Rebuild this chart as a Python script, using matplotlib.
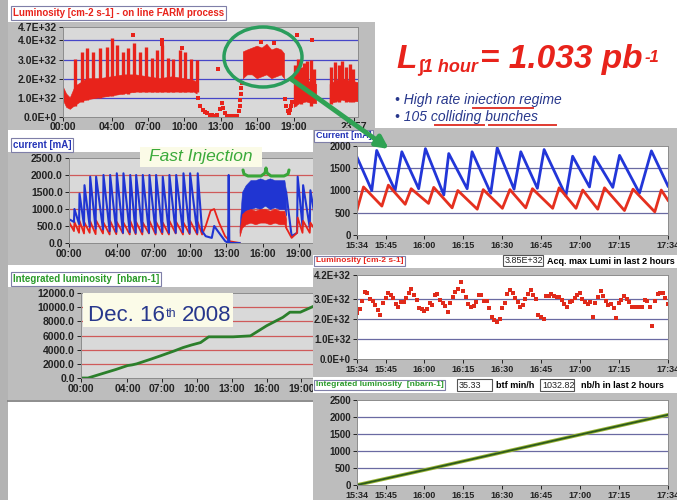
import numpy as np
import matplotlib
matplotlib.use('Agg')
import matplotlib.pyplot as plt
from matplotlib.patches import Rectangle, Ellipse
from matplotlib.lines import Line2D

plt.rcParams['font.family'] = ['Liberation Sans', 'DejaVu Sans']

nan = np.nan

# ---------------- daily trend (left column), time in hours ----------------
lum_spike_t = [0.99, 1.54, 2.00, 2.50, 3.05, 3.60, 4.01, 4.47, 4.97, 5.38, 5.85, 6.34,
               6.81, 7.30, 7.72, 8.18, 8.67, 9.09, 9.64, 10.05, 10.52, 11.01,
               19.10, 19.35, 19.60, 19.85, 20.10, 20.40, 20.70,
               22.10, 22.40, 22.70, 23.00, 23.30, 23.60, 23.90]
lum_spike_hi = [3.05, 3.40, 3.60, 3.40, 3.60, 3.67, 4.12, 3.76, 3.40, 3.60, 3.85, 3.40,
                3.67, 3.10, 3.50, 3.76, 3.10, 3.05, 3.50, 3.40, 3.05, 2.96,
                2.70, 3.05, 2.60, 2.80, 2.90, 3.00, 2.50,
                2.60, 2.85, 2.70, 2.90, 2.60, 2.75, 2.50]
lum_spike_lo = [0.60, 0.80, 0.90, 1.00, 1.00, 1.10, 1.10, 1.20, 1.20, 1.20, 1.30, 1.30,
                1.30, 1.30, 1.30, 1.30, 1.30, 1.30, 1.30, 1.30, 1.30, 1.30,
                0.60, 0.80, 0.70, 0.80, 0.90, 0.60, 0.80,
                0.70, 0.80, 0.80, 0.90, 0.80, 0.80, 0.80]
lum_band_t = [0.0, 0.3, 0.6, 1.0, 1.5, 2.0, 3.0, 4.0, 5.0, 6.0, 7.0, 8.0, 9.0, 10.0, 10.8, 11.05, nan,
              14.85, 15.2, 15.6, 16.0, 16.4, 16.8, 17.2, 17.6, 18.0, 18.25, nan,
              19.05, 19.5, 20.0, 20.5, 20.9, nan,
              22.0, 22.5, 23.0, 23.5, 24.3]
lum_band_lo = [0.9, 0.5, 0.4, 0.6, 0.8, 0.9, 1.0, 1.1, 1.2, 1.3, 1.3, 1.3, 1.3, 1.3, 1.3, 1.2, nan,
               2.0, 2.2, 2.2, 2.0, 2.1, 2.2, 2.0, 2.1, 2.2, 2.0, nan,
               0.5, 0.7, 0.8, 0.7, 0.7, nan,
               0.7, 0.8, 0.9, 0.8, 0.8]
lum_band_hi = [1.6, 1.2, 1.0, 1.6, 1.8, 2.0, 2.0, 2.1, 2.2, 2.2, 2.1, 2.0, 2.1, 2.0, 1.9, 1.8, nan,
               3.4, 3.5, 3.6, 3.7, 3.6, 3.8, 3.5, 3.6, 3.5, 3.3, nan,
               1.6, 1.8, 1.9, 1.8, 1.7, nan,
               1.7, 1.9, 2.0, 1.9, 1.8]
lum_pt_t = [11.15, 11.3, 11.5, 11.7, 11.9, 12.1, 12.3, 12.5, 12.7, 12.9, 13.07, 13.2, 13.35,
            13.5, 13.7, 13.9, 14.1, 14.3, 14.5, 14.55, 14.6, 14.65, 14.7, 14.75,
            18.3, 18.4, 18.5, 18.6, 18.7, 18.8, 18.9,
            5.77, 8.15, 8.15, 9.8, 12.77, 16.3, 17.4, 19.3, 20.5]
lum_pt_v = [1.0, 0.55, 0.35, 0.25, 0.2, 0.12, 0.08, 0.05, 0.1, 0.4, 0.72, 0.45, 0.2,
            0.05, 0.05, 0.05, 0.05, 0.05, 0.3, 0.6, 0.9, 1.2, 1.5, 1.8,
            0.95, 0.55, 0.3, 0.2, 0.35, 0.6, 0.8,
            4.3, 4.0, 3.8, 3.6, 2.5, 3.9, 3.85, 4.3, 4.0]

cur_inj_t = [0.41, 0.83, 1.24, 1.71, 2.20, 2.81, 3.36, 3.91, 4.46, 5.02, 5.51, 6.06,
             6.61, 7.16, 7.71, 8.26, 8.82, 9.42, 9.97, 10.60]
cur_blue_peak = [1000, 1450, 1700, 1950, 1950, 2000, 2000, 2050, 2050, 2000, 2000, 2000,
                 2000, 2000, 1950, 2000, 2000, 2050, 2050, 2050]
cur_blue_trough = [620, 560, 520, 480, 420, 400, 350, 330, 300, 320, 300, 330,
                   300, 300, 320, 300, 300, 320, 300, 300]
cur_red_peak = [620, 650, 600, 640, 660, 600, 650, 620, 600, 650, 620, 600,
                650, 620, 600, 650, 620, 600, 650, 620]
cur_red_trough = [350, 300, 280, 300, 260, 280, 250, 260, 280, 250, 260, 250,
                  280, 250, 260, 250, 280, 250, 260, 250]
cur_blue_tail_t = [11.00, 11.30, 11.80, 12.00, 12.40, 12.90, 13.15, 13.20, 13.25, 13.60, 14.10]
cur_blue_tail_v = [350, 200, 150, 500, 300, 60, 0, 2000, 0, 0, 0]
cur_red_tail_t = [11.0, 11.3, 11.7, 12.0, 12.4, 12.9, 13.3, 14.1]
cur_red_tail_v = [250, 500, 950, 1000, 600, 200, 50, 0]
fi_t = [14.1, 14.3, 14.6, 15.0, 15.4, 15.8, 16.2, 16.6, 17.0, 17.4, 17.8, 17.95]
fi_blue_hi = [500, 1500, 1700, 1850, 1850, 1900, 1850, 1900, 1850, 1850, 1850, 1500]
fi_blue_lo = [300, 700, 950, 1000, 1050, 1000, 1100, 1000, 1050, 1000, 1000, 800]
fi_red_hi = [400, 850, 950, 1000, 950, 1000, 1000, 950, 1000, 950, 950, 700]
fi_red_lo = [200, 450, 550, 600, 550, 600, 600, 550, 600, 550, 550, 400]
cur_blue_post_t = [17.95, 18.40, 18.85, 18.90, 19.30, 19.35, 19.90, 19.95, 20.50, 20.55, 21.2]
cur_blue_post_v = [1500, 200, 300, 1950, 500, 1700, 450, 1550, 400, 1500, 400]
cur_red_post_t = [17.95, 18.40, 18.85, 18.90, 19.30, 19.35, 19.90, 19.95, 20.5]
cur_red_post_v = [450, 150, 300, 750, 300, 650, 300, 600, 300]

int_t = [0, 0.6, 1.0, 2.0, 3.0, 4.0, 4.4, 4.8, 6.0, 6.8, 8.0, 8.8, 9.5, 10.3, 11.0,
         13.1, 14.6, 16.0, 17.4, 18.0, 18.9, 20.0, 21.0]
int_v = [0, 0, 200, 700, 1200, 1750, 1850, 2000, 2650, 3100, 3800, 4300, 4650, 5000, 5810,
         5810, 5950, 7380, 8570, 9290, 9290, 10100, 10600]

day_ticks = [0, 4, 7, 10, 13, 16, 19]
day_labels = ['00:00', '04:00', '07:00', '10:00', '13:00', '16:00', '19:00']

# ---------------- last two hours (right column), time in minutes after 15:34 ----------------
zoom_blue_t = [0, 5.7, 7.6, 14.7, 17.3, 23.8, 26.4, 33.5, 35.4, 42.5, 44.4, 51.6, 54.1,
               60.6, 63.2, 69.6, 72.2, 80.6, 83.2, 89.7, 91.6, 98.7, 101.3, 109.0, 113.6, 120]
zoom_blue_v = [1750, 1000, 1900, 1000, 1870, 1040, 1940, 900, 1830, 1040, 1870, 940, 1960,
               1030, 1870, 1050, 1920, 880, 1770, 1080, 1760, 1070, 1790, 940, 1890, 1100]
zoom_red_t = [0, 2.5, 9.6, 12.1, 18.6, 20.9, 27.6, 29.6, 36.7, 38.9, 46.4, 48.7, 56.1, 59.0,
              65.1, 67.7, 75.5, 78.0, 84.5, 87.1, 92.9, 95.5, 103.2, 106.5, 114.9, 117.4, 120]
zoom_red_v = [560, 1080, 650, 1120, 690, 1040, 710, 1070, 610, 1000, 580, 1020, 600, 1020,
              610, 1040, 600, 1060, 600, 1010, 580, 1060, 550, 1030, 520, 1010, 780]

zoom_lumi_min = np.arange(0, 121)
zoom_lumi = [2.3, 2.5, 2.9, 3.35, 3.3, 3.0, 2.9, 2.7, 2.45, 2.2,
             2.8, 3.05, 3.3, 3.2, 3.05, 2.75, 2.6, 2.85, 2.85, 3.05,
             3.3, 3.5, 3.2, 2.95, 2.55, 2.5, 2.4, 2.5, 2.8, 2.7,
             3.2, 3.25, 2.95, 2.8, 2.65, 2.35, 2.8, 3.1, 3.35, 3.5,
             3.85, 3.4, 3.1, 2.75, 2.6, 2.65, 2.85, 3.2, 3.2, 2.9,
             2.9, 2.55, 2.1, 1.95, 1.85, 2.0, 2.55, 2.8, 3.25, 3.45,
             3.3, 3.05, 2.85, 2.6, 2.7, 3.0, 3.25, 3.45, 3.2, 3.0,
             2.2, 2.1, 2.0, 3.15, 3.15, 3.25, 3.15, 3.1, 3.1, 2.95,
             2.75, 2.6, 2.85, 2.9, 3.05, 3.2, 3.3, 3.0, 2.85, 2.75,
             2.85, 2.1, 2.8, 3.1, 3.4, 3.15, 2.9, 2.7, 2.75, 2.55,
             2.05, 2.8, 2.95, 3.15, 3.0, 2.85, 2.6, 2.6, 2.6, 2.6,
             2.6, 2.95, 2.9, 2.6, 1.65, 2.9, 3.25, 3.3, 3.3, 3.05,
             2.75]

zoom_int_t = [0, 26, 56, 86, 120]
zoom_int_v = [0, 440, 960, 1480, 2065]

zoom_ticks = [0, 11, 26, 41, 56, 71, 86, 101, 120]
zoom_labels = ['15:34', '15:45', '16:00', '16:15', '16:30', '16:45', '17:00', '17:15', '17:34']

RED = '#e8231b'
BLUE = '#2035d2'
PANEL = '#bdbdbd'
PLOT_BG = '#d9d9d9'
NAVY = '#27378c'
ARROW_GREEN = '#2fa253'

W, H = 677, 500
fig = plt.figure(figsize=(W / 100, H / 100), dpi=100)
fig.patch.set_facecolor('white')


def px_axes(x0, y0, x1, y1, z):
    return fig.add_axes([x0 / W, 1 - y1 / H, (x1 - x0) / W, (y1 - y0) / H], zorder=z)


def layer(z):
    ax = px_axes(0, 0, W, H, z)
    ax.set_xlim(0, W)
    ax.set_ylim(H, 0)
    ax.axis('off')
    return ax


def style_panel(ax, face, grid_vals, grid_color, xticks, xlabels, yticks, ylabels, fs_x, fs_y):
    ax.set_facecolor(face)
    for v in grid_vals:
        ax.axhline(v, color=grid_color, lw=0.9, zorder=0.5)
    ax.set_xticks(xticks)
    ax.set_xticklabels(xlabels, fontsize=fs_x, fontweight='bold')
    ax.set_yticks(yticks)
    ax.set_yticklabels(ylabels, fontsize=fs_y, fontweight='bold')
    ax.tick_params(length=3, width=0.7, pad=1.5, colors='#222222')
    for s in ax.spines.values():
        s.set_color('#8c8c8c')
        s.set_linewidth(0.7)


def title_box(ax, x, y, s, color, fs):
    ax.text(x, y, s, color=color, fontsize=fs, fontweight='bold', ha='left', va='center',
            bbox=dict(boxstyle='square,pad=0.2', fc='white', ec='#7f7fa8', lw=0.8))


def sawtooth(t, trough, peak, rise):
    t = np.asarray(t, dtype=float)
    return (np.column_stack([t, t + rise]).ravel(),
            np.column_stack([trough, peak]).ravel())


# ---- background: panel frames of the daily trend ----
bg = layer(0)
bg.add_patch(Rectangle((0, 0), 8, H, fc='#b3b3b3', ec='none'))
bg.add_patch(Rectangle((8, 22), 367, 108, fc=PANEL, ec='none'))
bg.add_patch(Rectangle((8, 152), 305, 113, fc=PANEL, ec='none'))
bg.add_patch(Rectangle((8, 287), 305, 113, fc=PANEL, ec='none'))
bg.plot([8, 313], [401, 401], color='#7a7a7a', lw=1.2)
title_box(bg, 13, 13, 'Luminosity [cm-2 s-1] - on line FARM process', RED, 7)
title_box(bg, 13, 145, 'current [mA]', '#2434b8', 7)
title_box(bg, 13, 279, 'Integrated luminosity  [nbarn-1]', '#2a9a2a', 7)

# ---- daily luminosity ----
ax1 = px_axes(63, 27, 358, 117, 1)
ax1.fill_between(lum_band_t, lum_band_lo, lum_band_hi, color=RED, lw=0.4)
ax1.vlines(lum_spike_t, lum_spike_lo, lum_spike_hi, color=RED, lw=2.4)
ax1.plot(lum_pt_t, lum_pt_v, 's', color=RED, ms=2.4, mew=0)
ax1.set_xlim(0, 24.3)
ax1.set_ylim(0, 4.7)
style_panel(ax1, PLOT_BG, [1, 2, 3, 4], '#4646c8',
            day_ticks + [23.95], day_labels + ['23:57'],
            [0, 1, 2, 3, 4, 4.7], ['0.0E+0', '1.0E+32', '2.0E+32', '3.0E+32', '4.0E+32', '4.7E+32'],
            7.5, 7.5)
ax1.tick_params(axis='x', pad=0.8)

# ---- daily beam currents ----
ax2 = px_axes(69, 158, 363, 243, 1)
bx, by = sawtooth(cur_inj_t, cur_blue_trough, cur_blue_peak, 0.04)
rx, ry = sawtooth(cur_inj_t, cur_red_trough, cur_red_peak, 0.04)
ax2.plot(np.r_[0.0, rx, cur_red_tail_t], np.r_[620, ry, cur_red_tail_v], color=RED, lw=1.3)
ax2.plot(np.r_[0.0, bx, cur_blue_tail_t], np.r_[700, by, cur_blue_tail_v], color=BLUE, lw=1.5)
ax2.fill_between(fi_t, fi_blue_lo, fi_blue_hi, color=BLUE, lw=0.4)
ax2.fill_between(fi_t, fi_red_lo, fi_red_hi, color=RED, lw=0.4)
ax2.plot(cur_blue_post_t, cur_blue_post_v, color=BLUE, lw=1.5)
ax2.plot(cur_red_post_t, cur_red_post_v, color=RED, lw=1.3)
ax2.set_xlim(0, 24.3)
ax2.set_ylim(0, 2500)
style_panel(ax2, PLOT_BG, [500, 1000, 1500, 2000], '#cf5a5a',
            day_ticks, day_labels,
            [0, 500, 1000, 1500, 2000, 2500], ['0.0', '500.0', '1000.0', '1500.0', '2000.0', '2500.0'],
            7.5, 7.5)

# ---- daily integrated luminosity ----
ax3 = px_axes(81, 293, 363, 378, 1)
ax3.plot(int_t, int_v, color='#2b7f2b', lw=2.0)
ax3.set_xlim(0, 24.3)
ax3.set_ylim(0, 12000)
style_panel(ax3, PLOT_BG, [2000, 4000, 6000, 8000, 10000], '#cf5a5a',
            day_ticks, day_labels,
            list(range(0, 12001, 2000)), ['%d.0' % v for v in range(0, 12001, 2000)],
            7.5, 7.5)

# ---- right column frames ----
ov = layer(2)
ov.add_patch(Rectangle((313, 128), 364, 127, fc=PANEL, ec='none'))
ov.add_patch(Rectangle((313, 255), 364, 13, fc='white', ec='none'))
ov.add_patch(Rectangle((313, 268), 364, 109, fc=PANEL, ec='none'))
ov.add_patch(Rectangle((313, 377), 364, 16, fc='white', ec='none'))
ov.add_patch(Rectangle((313, 393), 364, 107, fc=PANEL, ec='none'))
title_box(ov, 316, 136, 'Current [mA]', '#2434b8', 6.5)
title_box(ov, 316, 261, 'Luminosity [cm-2 s-1]', RED, 6)
title_box(ov, 316, 385, 'Integrated luminosity  [nbarn-1]', '#2a9a2a', 6)
for (x0, y0, w, h, s) in [(503, 255, 40, 11, '3.85E+32'), (457, 379, 35, 12, '35.33'),
                          (540, 379, 34, 12, '1032.82')]:
    ov.add_patch(Rectangle((x0, y0), w, h, fc='white', ec='#555555', lw=0.8))
    ov.text(x0 + 2, y0 + h / 2, s, fontsize=6.5, ha='left', va='center', color='#222222')
ov.text(547, 261, 'Acq. max Lumi in last 2 hours', fontsize=6.5, fontweight='bold', va='center')
ov.text(496, 385, 'btf min/h', fontsize=6.5, fontweight='bold', va='center')
ov.text(581, 385, 'nb/h in last 2 hours', fontsize=6.5, fontweight='bold', va='center')

# ---- last two hours: currents ----
r1 = px_axes(357, 146, 668, 235, 3)
r1.plot(zoom_blue_t, zoom_blue_v, color='#2236d8', lw=2.0)
r1.plot(zoom_red_t, zoom_red_v, color='#e5301f', lw=2.0)
r1.set_xlim(0, 120)
r1.set_ylim(0, 2000)
style_panel(r1, 'white', [500, 1000, 1500], '#6a6aa2', zoom_ticks, zoom_labels,
            [0, 500, 1000, 1500, 2000], ['0', '500', '1000', '1500', '2000'], 6.5, 7)

# ---- last two hours: luminosity ----
r2 = px_axes(357, 275, 668, 359, 3)
r2.plot(zoom_lumi_min, zoom_lumi, 's', color='#e02a1a', ms=2.8, mew=0)
r2.set_xlim(0, 120)
r2.set_ylim(0, 4.2)
style_panel(r2, 'white', [1, 2, 3], '#6a6aa2', zoom_ticks, zoom_labels,
            [0, 1, 2, 3, 4.2], ['0.0E+0', '1.0E+32', '2.0E+32', '3.0E+32', '4.2E+32'], 6.5, 7)

# ---- last two hours: integrated luminosity ----
r3 = px_axes(357, 400, 668, 485, 3)
r3.plot(zoom_int_t, zoom_int_v, color='#9bb534', lw=2.6)
r3.plot(zoom_int_t, zoom_int_v, color='#2c5a1c', lw=1.3)
r3.set_xlim(0, 120)
r3.set_ylim(0, 2500)
style_panel(r3, 'white', [500, 1000, 1500, 2000], '#6a6aa2', zoom_ticks, zoom_labels,
            [0, 500, 1000, 1500, 2000, 2500], ['0', '500', '1000', '1500', '2000', '2500'], 6.5, 7)

# ---- annotations on top ----
top = layer(5)
top.add_patch(Ellipse((263, 57), 78, 60, fill=False, ec='#2a9d5c', lw=2.5))
top.annotate('', xy=(389, 149), xytext=(291, 79),
             arrowprops=dict(arrowstyle='-|>', lw=3.5, color=ARROW_GREEN,
                             mutation_scale=18, shrinkA=0, shrinkB=0))

top.add_patch(Rectangle((140, 147), 122, 20, fc='#fbfbe7', ec='none'))
top.text(201, 157, 'Fast Injection', ha='center', va='center', color='#3aaa3a',
         fontsize=12.5, style='italic')
brace = [(243, 170), (244, 174), (248, 176), (261, 176), (265, 173), (266, 168),
         (267, 173), (271, 176), (284, 176), (288, 174), (289, 170)]
top.add_line(Line2D([p[0] for p in brace], [p[1] for p in brace], color='#3aa63a', lw=2.2,
                    solid_joinstyle='round', solid_capstyle='round'))

top.add_patch(Rectangle((83, 293), 150, 34, fc='#fbfbe8', ec='none'))
t_dec = top.text(88, 321, 'Dec. 16', fontsize=16, color=NAVY, va='baseline')
t_th = top.annotate('th', xy=(1, 1), xycoords=t_dec, xytext=(0.5, -2), textcoords='offset points',
                    fontsize=9, color=NAVY, ha='left', va='top')
top.annotate('2008', xy=(1, 0), xycoords=(t_th, t_dec), xytext=(4, 0), textcoords='offset points',
             fontsize=16, color=NAVY, ha='left', va='bottom')

big = dict(color=RED, fontweight='bold', style='italic')
t_L = top.text(396, 68, 'L', fontsize=24, va='baseline', **big)
t_sub = top.annotate('\u222b1 hour', xy=(1, 0), xycoords=t_L, xytext=(1, 0),
                     textcoords='offset points', fontsize=13, ha='left', va='bottom', **big)
t_eq = top.annotate('= 1.033 pb', xy=(1, 0), xycoords=(t_sub, t_L), xytext=(2, 0),
                    textcoords='offset points', fontsize=24, ha='left', va='bottom', **big)
top.annotate('-1', xy=(1, 1), xycoords=t_eq, xytext=(1, -4), textcoords='offset points',
             fontsize=12, ha='left', va='top', **big)

top.text(395, 104, '\u2022 High rate iniection regime', fontsize=10, style='italic',
         color=NAVY, va='baseline')
top.text(395, 121, '\u2022 105 colliding bunches', fontsize=10, style='italic',
         color=NAVY, va='baseline')
for x0, x1, y in [(473, 533, 107.5), (435, 484, 125), (489, 556, 125)]:
    top.plot([x0, x1], [y, y], color='#e03a30', lw=1.4)

fig.savefig('out.png', dpi=100)
